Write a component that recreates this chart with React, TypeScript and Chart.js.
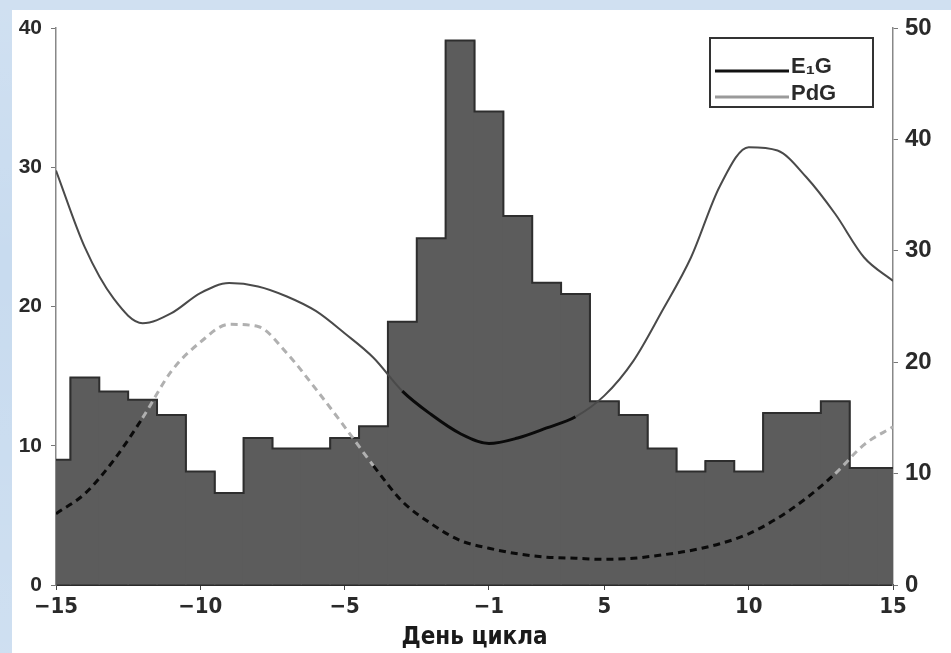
import React, { useEffect, useRef } from "react";
import { Chart, registerables } from "chart.js";

Chart.register(...registerables);

// Days of the cycle (no day 0), one bar per day
const days = [-15, -14, -13, -12, -11, -10, -9, -8, -7, -6, -5, -4, -3, -2, -1, 1, 2, 3, 4, 5, 6, 7, 8, 9, 10, 11, 12, 13, 14, 15];
// Histogram (left axis, 0–40)
const barValues = [9.0, 14.9, 13.9, 13.3, 12.2, 8.15, 6.6, 10.55, 9.8, 9.8, 10.55, 11.4, 18.9, 24.9, 39.1, 34.0, 26.5, 21.7, 20.9, 13.2, 12.2, 9.8, 8.15, 8.9, 8.15, 12.35, 12.35, 13.2, 8.4, 8.4];
// Solid curve (right axis, 0–50)
const e1gValues = [37.2, 30.3, 25.7, 23.5, 24.4, 26.2, 27.1, 26.8, 25.9, 24.6, 22.6, 20.4, 17.4, 15.3, 13.6, 12.7, 13.2, 14.1, 15.1, 17.0, 20.1, 24.6, 29.4, 35.8, 39.3, 39.0, 36.6, 33.3, 29.4, 27.3];
// Dashed curve (right axis, 0–50)
const pdgValues = [6.4, 8.2, 11.2, 15.0, 19.2, 21.8, 23.4, 23.2, 20.8, 17.6, 14.2, 10.7, 7.5, 5.5, 4.0, 3.3, 2.8, 2.5, 2.4, 2.3, 2.4, 2.7, 3.1, 3.7, 4.6, 6.0, 7.8, 10.0, 12.6, 14.2];

// X tick positions (bar index) and their printed labels
const xTickPositions = [0, 5, 10, 15, 19, 24, 29];
const xTickLabels = ["−15", "−10", "−5", "−1", "5", "10", "15"];
const xTitle = "День цикла";

const legendLabels = ["E\u2081G", "PdG"];
const legendColors = ["#111111", "#9a9a9a"];

const leftTickFont = { family: "'Liberation Sans', Arial, sans-serif", size: 21, weight: "bold" as const };
const rightTickFont = { family: "'Liberation Sans', Arial, sans-serif", size: 24, weight: "bold" as const };

function insideBars(ctx: any): boolean {
  const ys = ctx.chart.scales.y;
  const t0 = ys.getPixelForValue(barValues[ctx.p0DataIndex]);
  const t1 = ys.getPixelForValue(barValues[ctx.p1DataIndex]);
  return ctx.p0.y >= t0 - 1 && ctx.p1.y >= t1 - 1;
}

const boxLegend = {
  id: "boxLegend",
  afterDraw(chart: any) {
    const { ctx, chartArea } = chart;
    const w = 163;
    const h = 69;
    const left = chartArea.right - 20 - w;
    const top = chartArea.top + 10;
    ctx.save();
    ctx.fillStyle = "#ffffff";
    ctx.fillRect(left, top, w, h);
    ctx.strokeStyle = "#333333";
    ctx.lineWidth = 2;
    ctx.strokeRect(left, top, w, h);
    ctx.font = "bold 22px 'Liberation Sans', Arial, sans-serif";
    ctx.textBaseline = "middle";
    legendLabels.forEach((lab, i) => {
      const ly = top + 33 + i * 26;
      ctx.strokeStyle = legendColors[i];
      ctx.lineWidth = 3;
      ctx.beginPath();
      ctx.moveTo(left + 5, ly);
      ctx.lineTo(left + 79, ly);
      ctx.stroke();
      ctx.fillStyle = "#2a2a2a";
      ctx.fillText(lab, left + 81, ly - 3 - (i === 0 ? 1 : 0));
    });
    ctx.restore();
  },
};

function fixVertical(width: number) {
  return (scale: any) => {
    scale.width = width;
    scale.paddingTop = 0;
    scale.paddingBottom = 0;
  };
}

export default function App() {
  const canvasRef = useRef<HTMLCanvasElement | null>(null);

  useEffect(() => {
    document.body.style.margin = "0";
    const canvas = canvasRef.current;
    if (!canvas) return;

    const barPoints = barValues.map((v, i) => ({ x: i, y: v }));

    const chart = new Chart(canvas, {
      type: "bar",
      data: {
        datasets: [
          {
            type: "line",
            label: "E1G",
            data: e1gValues.map((v, i) => ({ x: i, y: v })),
            yAxisID: "y1",
            borderColor: "#4a4a4a",
            borderWidth: 2,
            pointRadius: 0,
            cubicInterpolationMode: "monotone",
            fill: false,
            order: 0,
            segment: {
              borderColor: (c: any) => (insideBars(c) ? "#0a0a0a" : "#4a4a4a"),
              borderWidth: (c: any) => (insideBars(c) ? 3 : 2),
            },
          } as any,
          {
            type: "line",
            label: "PdG",
            data: pdgValues.map((v, i) => ({ x: i, y: v })),
            yAxisID: "y1",
            borderColor: "#b0b0b0",
            borderWidth: 3,
            borderDash: [7, 5],
            pointRadius: 0,
            cubicInterpolationMode: "monotone",
            fill: false,
            order: 0,
            segment: {
              borderColor: (c: any) => (insideBars(c) ? "#0a0a0a" : "#b0b0b0"),
            },
          } as any,
          {
            type: "line",
            label: "outline",
            data: barPoints,
            yAxisID: "y",
            stepped: "middle",
            borderColor: "#2e2e2e",
            borderWidth: 2,
            pointRadius: 0,
            fill: false,
            clip: 0,
            order: 1,
          } as any,
          {
            type: "bar",
            label: "count",
            data: barPoints,
            yAxisID: "y",
            backgroundColor: "#5c5c5c",
            borderWidth: 0,
            inflateAmount: 0,
            barPercentage: 1.05,
            categoryPercentage: 1,
            clip: 0,
            order: 2,
          } as any,
        ],
      },
      options: {
        responsive: false,
        animation: false,
        events: [],
        layout: { padding: { top: 18, left: 0, right: 0, bottom: 0 } },
        plugins: {
          legend: { display: false },
          tooltip: { enabled: false },
        },
        scales: {
          x: {
            type: "linear",
            min: 0,
            max: xTickPositions[xTickPositions.length - 1],
            offset: false,
            afterBuildTicks: (scale: any) => {
              scale.ticks = xTickPositions.map((v) => ({ value: v }));
            },
            afterFit: (scale: any) => {
              scale.height = 68;
              scale.paddingLeft = 0;
              scale.paddingRight = 0;
            },
            ticks: {
              autoSkip: false,
              maxRotation: 0,
              padding: 4,
              color: "#2a2a2a",
              font: { family: "'DejaVu Sans Condensed', 'Liberation Sans', sans-serif", size: 22, weight: "bold" },
              callback: (value: any) => {
                const k = xTickPositions.indexOf(Number(value));
                return k >= 0 ? xTickLabels[k] : "";
              },
            },
            grid: { display: true, drawOnChartArea: false, drawTicks: true, tickLength: 5, color: "#444444", offset: false },
            border: { display: true, color: "#2a2a2a", width: 2 },
            title: {
              display: true,
              text: xTitle,
              color: "#1a1a1a",
              font: { family: "'DejaVu Sans Condensed', 'DejaVu Sans', sans-serif", size: 24, weight: "bold" },
              padding: { top: 0, bottom: 1 },
            },
          },
          y: {
            position: "left",
            min: 0,
            max: 40,
            afterFit: fixVertical(44),
            ticks: { stepSize: 10, padding: 9, color: "#2a2a2a", font: leftTickFont },
            grid: { display: true, drawOnChartArea: false, drawTicks: true, tickLength: 5, color: "#777777" },
            border: { display: true, color: "#888888", width: 1.5 },
          },
          y1: {
            position: "right",
            min: 0,
            max: 50,
            afterFit: fixVertical(58),
            ticks: { stepSize: 10, padding: 7, color: "#2a2a2a", font: rightTickFont },
            grid: { display: true, drawOnChartArea: false, drawTicks: true, tickLength: 5, color: "#777777" },
            border: { display: true, color: "#888888", width: 1.5 },
          },
        },
      } as any,
      plugins: [boxLegend],
    });

    return () => {
      chart.destroy();
    };
  }, []);

  return (
    <div
      style={{
        position: "fixed",
        left: 0,
        top: 0,
        width: 951,
        height: 653,
        background:
          "linear-gradient(180deg, rgba(255,255,255,0.15), rgba(255,255,255,0) 40%, rgba(255,255,255,0.12)), #c8dbef",
        overflow: "hidden",
      }}
    >
      <div style={{ position: "absolute", left: 12, top: 10, width: 939, height: 643, background: "#ffffff" }}>
        <canvas ref={canvasRef} width={939} height={643} style={{ display: "block", width: 939, height: 643 }} />
      </div>
    </div>
  );
}
